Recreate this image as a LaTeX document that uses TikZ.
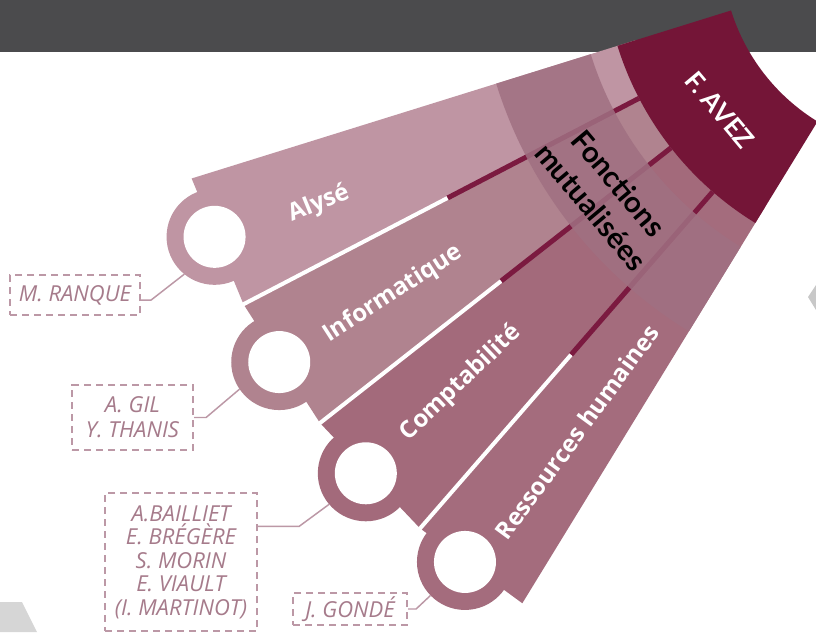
\documentclass[tikz,border=0pt]{standalone}
\usepackage{fontspec}
\setmainfont{Open Sans}
\newfontfamily\latofont{Lato}
\usetikzlibrary{calc}
\definecolor{barc}{HTML}{4B4B4D}
\definecolor{favez}{HTML}{741537}
\definecolor{darksep}{HTML}{7B1A40}
\definecolor{bladeA}{HTML}{BF95A3}
\definecolor{bladeB}{HTML}{B0838F}
\definecolor{bladeC}{HTML}{A36A7B}
\definecolor{bladeD}{HTML}{A46C7D}
\definecolor{ringc}{HTML}{A07082}
\definecolor{boxline}{HTML}{BC98A6}
\definecolor{boxtext}{HTML}{A67B8B}
\definecolor{greyA}{HTML}{D6D6D6}
\definecolor{greyB}{HTML}{C8C8C8}
\begin{document}
\begin{tikzpicture}[x=0.75pt,y=-0.75pt,
  namebox/.style={draw=boxline, dash pattern=on 5.5pt off 3.5pt, line width=1.6pt,
    inner sep=0pt, align=center, text=boxtext,
    font=\itshape\fontsize{16.5}{17.6}\selectfont},
  bladelabel/.style={text=white, inner sep=0pt, font=\bfseries\fontsize{18}{20}\selectfont},
  link/.style={draw=boxline, line width=1.1pt},
  darkline/.style={draw=darksep, line width=3.75pt},
  whiteline/.style={draw=white, line width=3pt}]
\useasboundingbox (0,0) rectangle (816,632);
\fill[white] (0,0) rectangle (816,632);
\fill[barc] (0,0) rectangle (816,52);
\coordinate (O) at (922,-49);
% blades
\fill[bladeA] ($(O)+(162.7:300)$) -- ($(O)+(162.7:765)$) -- ($(O)+(152.5:765)$) -- ($(O)+(152.5:300)$) -- cycle;
\fill[bladeB] ($(O)+(152.5:300)$) -- ($(O)+(152.5:765)$) -- ($(O)+(141.9:765)$) -- ($(O)+(141.9:300)$) -- cycle;
\fill[bladeC] ($(O)+(141.9:300)$) -- ($(O)+(141.9:765)$) -- ($(O)+(131.0:765)$) -- ($(O)+(131.0:300)$) -- cycle;
\fill[bladeD] ($(O)+(131.0:300)$) -- ($(O)+(131.0:765)$) -- ($(O)+(121.5:765)$) -- ($(O)+(121.5:300)$) -- cycle;
% rings
\coordinate (c1) at ($(O)+(158.0:763)$);
\coordinate (c2) at ($(O)+(147.4:763)$);
\coordinate (c3) at ($(O)+(136.8:763)$);
\coordinate (c4) at ($(O)+(126.8:763)$);
\fill[bladeA] (c1) circle[radius=36pt];
\fill[bladeB] (c2) circle[radius=36pt];
\fill[bladeC] (c3) circle[radius=36pt];
\fill[bladeD] (c4) circle[radius=36pt];
\foreach \c in {c1,c2,c3,c4} \fill[white] (\c) circle[radius=23.25pt];
% separators
\foreach \a in {152.5,141.9,131.0} {
  \draw[darkline] ($(O)+(\a:319)$) -- ($(O)+(\a:535)$);
  \draw[whiteline] ($(O)+(\a:535)$) -- ($(O)+(\a:772)$);
}
% shared functions ring
\fill[ringc, opacity=0.85] plot[domain=121.5:162.7, samples=50] ({922+347*cos(\x)}, {-49+347*sin(\x)})
  -- plot[domain=162.7:121.5, samples=50] ({922+446*cos(\x)}, {-49+446*sin(\x)}) -- cycle;
% F. AVEZ sector
\fill[favez] plot[domain=121.5:162.7, samples=50] ({922+200*cos(\x)}, {-49+200*sin(\x)})
  -- plot[domain=162.7:121.5, samples=50] ({922+319*cos(\x)}, {-49+319*sin(\x)}) -- cycle;
% labels
\node[bladelabel, rotate=22.4] (lA) at (319,204) {Alysé};
\node[bladelabel, rotate=32.8] (lB) at (393,294) {Informatique};
\node[bladelabel, rotate=43.5] (lC) at (461,383) {Comptabilité};
\node[bladelabel, rotate=53.8] (lD) at (577,432) {Ressources humaines};
\node[text=white, inner sep=0pt, rotate=-50, font=\latofont\bfseries\fontsize{19.5}{22}\selectfont] (fa) at (720,110) {F. AVEZ};
\node[text=black, inner sep=0pt, rotate=-50, align=center, font=\latofont\bfseries\fontsize{22}{27}\selectfont] (fm) at (605,195) {Fonctions\\mutualisées};
% name boxes
\node[namebox, minimum width=97.5pt, minimum height=30pt] (b1) at (75,295) {M. RANQUE};
\node[namebox, minimum width=90.75pt, minimum height=48.75pt] (b2) at (132.5,417.5) {A. GIL\\[1pt]Y. THANIS};
\node[namebox, minimum width=114pt, minimum height=103.5pt] (b3) at (181,562) {A.BAILLIET\\E. BRÉGÈRE\\S. MORIN\\E. VIAULT\\(I. MARTINOT)};
\node[namebox, minimum width=85.5pt, minimum height=24pt] (b4) at (350,609) {J. GONDÉ};
\coordinate (k1) at ($(c1)+(129:48)$);
\coordinate (k2) at ($(c2)+(145.7:48)$);
\coordinate (k3) at ($(c3)+(139.8:48)$);
\coordinate (k4) at ($(c4)+(135.8:48)$);
\draw[link] ($(b1.north east)!0.62!(b1.south east)$) -- ++(10,0) -- (k1);
\draw[link] (b2.east) -- ++(12,0) -- (k2);
\draw[link] ($(b3.north east)!0.246!(b3.south east)$) -- ++(41,0) -- (k3);
\draw[link] (b4.east) -- ++(8,0) -- (k4);
% grey decorations
\fill[greyA] (0,602) -- (22,602) -- (37,632) -- (0,632) -- cycle;
\fill[greyB] (816,285) -- (808,297) -- (816,310) -- cycle;
\end{tikzpicture}
\end{document}
